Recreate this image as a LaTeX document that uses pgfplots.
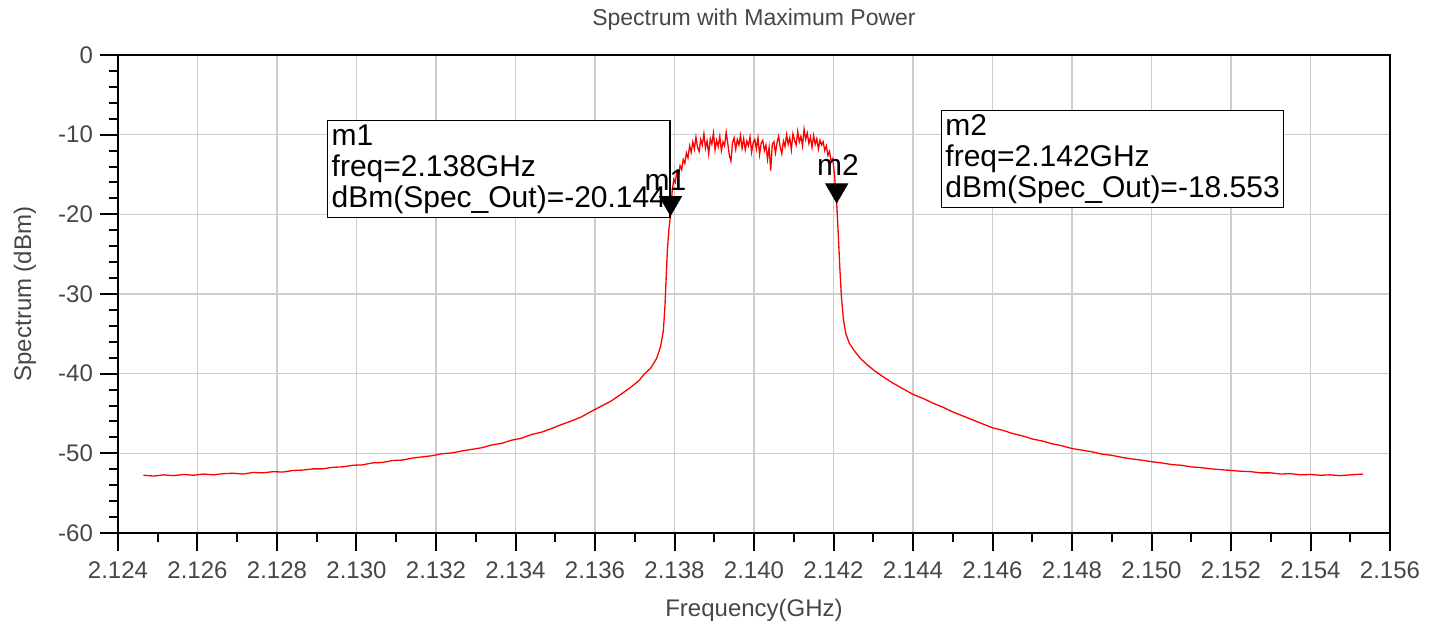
\documentclass[border=0pt]{standalone}
\usepackage{fontspec}
\setmainfont{Liberation Sans}
\usepackage{pgfplots}
\pgfplotsset{compat=1.18}
\definecolor{labelgray}{RGB}{70,70,70}
\definecolor{gridgray}{RGB}{205,205,205}

\begin{document}
\begin{tikzpicture}
\path[use as bounding box] (-59pt,-47.5pt) rectangle (661.5pt,266.5pt);
\begin{axis}[
  at={(0,0)}, anchor=south west,
  scale only axis, width=636pt, height=239pt,
  xmin=2.124, xmax=2.156, ymin=-60, ymax=0,
  xtick={2.124,2.126,2.128,2.130,2.132,2.134,2.136,2.138,2.140,2.142,2.144,2.146,2.148,2.150,2.152,2.154,2.156},
  ytick={-60,-50,-40,-30,-20,-10,0},
  minor x tick num=1, minor y tick num=4,
  scaled x ticks=false,
  xticklabel style={yshift=-2pt, /pgf/number format/.cd, fixed, fixed zerofill, precision=3},
  /pgf/number format/assume math mode=true,
  tick align=outside, tick pos=left,
  major tick length=9pt, minor tick length=4.5pt,
  every tick/.style={black, line width=1pt},
  axis line style={black, line width=1.2pt},
  grid=major, major grid style={gridgray, line width=0.8pt},
  tick label style={font=\fontsize{12}{14}\selectfont, text=labelgray},
  title={Spectrum with Maximum Power},
  title style={font=\fontsize{11.5}{14}\selectfont, text=labelgray, at={(axis description cs:0.5,1.05)}, anchor=center},
  xlabel={Frequency(GHz)}, ylabel={Spectrum (dBm)},
  label style={font=\fontsize{12}{14}\selectfont, text=labelgray},
  xlabel style={at={(axis description cs:0.5,-0.1611)}, anchor=center},
  ylabel style={at={(axis description cs:-0.0731,0.5)}, anchor=center},
]
% spectrum: left skirt, channel, right skirt
\addplot[red, line width=0.65pt] table {
2.12464 -52.75
2.12490 -52.85
2.12515 -52.70
2.12540 -52.80
2.12565 -52.65
2.12590 -52.75
2.12615 -52.60
2.12640 -52.70
2.12665 -52.55
2.12690 -52.50
2.12715 -52.60
2.12740 -52.40
2.12765 -52.45
2.12790 -52.30
2.12815 -52.35
2.12840 -52.15
2.12865 -52.10
2.12890 -51.95
2.12915 -51.95
2.12940 -51.75
2.12965 -51.70
2.12990 -51.50
2.13015 -51.45
2.13040 -51.20
2.13065 -51.15
2.13090 -50.90
2.13115 -50.85
2.13140 -50.60
2.13165 -50.45
2.13190 -50.30
2.13215 -50.05
2.13240 -49.95
2.13265 -49.70
2.13290 -49.50
2.13315 -49.30
2.13340 -48.95
2.13365 -48.75
2.13390 -48.35
2.13415 -48.10
2.13440 -47.65
2.13465 -47.35
2.13490 -46.90
2.13515 -46.40
2.13540 -45.95
2.13565 -45.45
2.13590 -44.75
2.13615 -44.10
2.13640 -43.45
2.13665 -42.60
2.13690 -41.70
2.13710 -40.90
2.13725 -40.00
2.13740 -39.30
2.13755 -38.10
2.13765 -36.60
2.13772 -34.60
2.13776 -31.50
2.13779 -28.00
2.13782 -24.60
2.13786 -21.80
2.13790 -20.144
2.13794 -17.2
2.13798 -15.6
2.13802 -16.0
2.13806 -14.6
2.13810 -15.1
2.13814 -13.9
2.13818 -14.4
2.13822 -13.1
2.13826 -13.6
2.13830 -12.3
2.13834 -12.9
2.13838 -11.4
2.13842 -12.2
2.13846 -10.9
2.13850 -11.8
2.13854 -10.3
2.13858 -11.6
2.13862 -12.1
2.13866 -10.6
2.13870 -11.3
2.13874 -9.9
2.13878 -11.7
2.13882 -10.8
2.13886 -12.4
2.13890 -10.5
2.13894 -11.2
2.13898 -9.8
2.13902 -11.9
2.13906 -10.7
2.13910 -11.5
2.13914 -10.2
2.13918 -12.0
2.13922 -10.9
2.13926 -11.4
2.13930 -9.7
2.13934 -11.1
2.13938 -12.6
2.13942 -13.3
2.13946 -11.0
2.13950 -10.4
2.13954 -11.8
2.13958 -10.6
2.13962 -11.3
2.13966 -10.1
2.13970 -11.7
2.13974 -10.5
2.13978 -11.9
2.13982 -10.8
2.13986 -11.4
2.13990 -10.3
2.13994 -12.2
2.13998 -11.0
2.14002 -10.6
2.14006 -11.8
2.14010 -10.4
2.14014 -12.5
2.14018 -11.1
2.14022 -10.7
2.14026 -12.0
2.14030 -11.3
2.14034 -13.1
2.14038 -11.6
2.14042 -14.5
2.14046 -11.2
2.14050 -10.9
2.14054 -12.3
2.14058 -11.0
2.14062 -10.2
2.14066 -11.6
2.14070 -12.4
2.14074 -10.8
2.14078 -11.5
2.14082 -10.0
2.14086 -11.2
2.14090 -10.4
2.14094 -11.9
2.14098 -9.9
2.14102 -10.7
2.14106 -11.3
2.14110 -9.6
2.14114 -10.9
2.14118 -10.2
2.14122 -11.4
2.14126 -9.3
2.14130 -10.6
2.14134 -9.8
2.14138 -11.1
2.14142 -10.3
2.14146 -11.6
2.14150 -10.1
2.14154 -11.2
2.14158 -10.5
2.14162 -11.8
2.14166 -10.7
2.14170 -11.3
2.14174 -10.9
2.14178 -12.0
2.14182 -11.4
2.14186 -12.6
2.14190 -12.1
2.14194 -13.4
2.14198 -13.0
2.14202 -14.8
2.14208 -18.553
2.14212 -22.5
2.14216 -26.8
2.14220 -30.4
2.14225 -33.2
2.14231 -35.0
2.14240 -36.2
2.14252 -37.1
2.14268 -38.1
2.14285 -38.9
2.14305 -39.7
2.14325 -40.4
2.14350 -41.2
2.14375 -41.9
2.14400 -42.6
2.14425 -43.1
2.14450 -43.7
2.14475 -44.2
2.14500 -44.8
2.14525 -45.3
2.14550 -45.8
2.14575 -46.3
2.14600 -46.8
2.14625 -47.1
2.14650 -47.5
2.14675 -47.8
2.14700 -48.2
2.14725 -48.45
2.14750 -48.8
2.14775 -49.05
2.14800 -49.4
2.14825 -49.6
2.14850 -49.8
2.14875 -50.1
2.14900 -50.25
2.14925 -50.5
2.14950 -50.7
2.14975 -50.85
2.15000 -51.05
2.15025 -51.2
2.15050 -51.4
2.15075 -51.5
2.15100 -51.7
2.15125 -51.8
2.15150 -51.95
2.15175 -52.05
2.15200 -52.15
2.15225 -52.25
2.15250 -52.3
2.15275 -52.45
2.15300 -52.45
2.15325 -52.6
2.15350 -52.55
2.15375 -52.7
2.15400 -52.65
2.15425 -52.75
2.15450 -52.7
2.15475 -52.8
2.15500 -52.7
2.15532 -52.6
};

% marker readout boxes
\node[draw=black, line width=0.6pt, fill=white, anchor=north west, align=left, inner sep=2pt,
      font=\fontsize{15}{15.5}\selectfont] at (axis cs:2.12926,-8.16)
  {m1\\freq=2.138GHz\\dBm(Spec\_Out)=-20.144};
\node[draw=black, line width=0.6pt, fill=white, anchor=north west, align=left, inner sep=2pt,
      font=\fontsize{15}{15.5}\selectfont] at (axis cs:2.14470,-6.9)
  {m2\\freq=2.142GHz\\dBm(Spec\_Out)=-18.553};

% markers
\addplot[only marks, mark=triangle*, mark size=6.35pt,
  mark options={black, fill=black, yshift=6.35pt, rotate=180}]
  coordinates {(2.13790,-20.144) (2.14208,-18.553)};
\node[font=\fontsize{15}{15}\selectfont] at (axis cs:2.13777,-15.7) {m1};
\node[font=\fontsize{15}{15}\selectfont] at (axis cs:2.14211,-13.8) {m2};
\end{axis}
\end{tikzpicture}
\end{document}
